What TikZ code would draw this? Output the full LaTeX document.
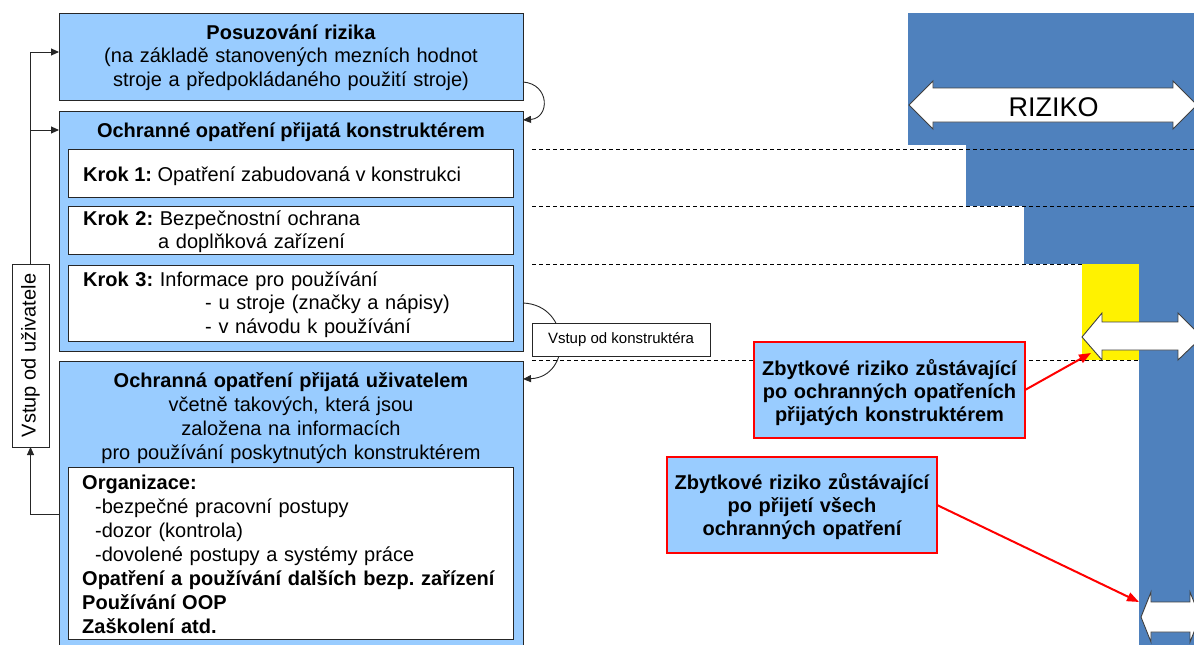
\documentclass[tikz,border=0pt]{standalone}
\usepackage{fontspec}
\setmainfont{Liberation Sans}
\usetikzlibrary{arrows.meta}
\definecolor{lblue}{HTML}{99CCFF}
\definecolor{sblue}{HTML}{4F81BD}
\definecolor{bord}{HTML}{262626}
\definecolor{agray}{HTML}{404040}
\frenchspacing
\begin{document}
\begin{tikzpicture}[x=1pt,y=-1pt,
  font=\fontsize{20}{23.5}\selectfont,
  box/.style={draw=bord,fill=lblue,line width=1pt,anchor=north west,inner sep=0pt,outer sep=0pt},
  wbox/.style={draw=bord,fill=white,line width=1pt,anchor=north west,inner sep=0pt,outer sep=0pt},
  callout/.style={draw=red,fill=lblue,line width=2.2pt,anchor=north west,inner sep=0pt,outer sep=0pt},
  ctext/.style={inner sep=0pt,anchor=base,align=center},
  ltext/.style={inner sep=0pt,anchor=base west,align=left},
  arr/.style={-{Triangle[length=8pt,width=7pt]},line width=0.9pt,draw=bord},
  redarr/.style={-{Triangle[length=12pt,width=9pt]},line width=2pt,draw=red,fill=red},
  dashline/.style={draw=black,line width=0.8pt,dash pattern=on 4pt off 3pt},
  bigarrow/.style={draw=agray,fill=white,line width=0.9pt}
]
\useasboundingbox (0,0) rectangle (1194,645);
\clip (0,0) rectangle (1194,645);

% risk bars
\fill[sblue] (908,13) rectangle (1194,145);
\fill[sblue] (966,145) rectangle (1194,206);
\fill[sblue] (1024,206) rectangle (1194,264);
\fill[sblue] (1139,264) rectangle (1194,645);
\fill[yellow] (1082,264) rectangle (1139,360);

% dashed level lines
\draw[dashline] (532,149) -- (1194,149);
\draw[dashline] (532,206) -- (1194,206);
\draw[dashline] (532,264) -- (1082,264);
\draw[dashline] (532,360) -- (1139,360);

% double arrows
\draw[bigarrow] (909,105) -- (933,81) -- (933,88) -- (1173,88) -- (1173,81) -- (1197,105) -- (1173,129) -- (1173,122) -- (933,122) -- (933,129) -- cycle;
\node[inner sep=0pt,anchor=base,font=\fontsize{27}{30}\selectfont] (riz) at (1053.5,116) {RIZIKO};
\draw[bigarrow] (1082,337) -- (1102,313) -- (1102,322) -- (1178,322) -- (1178,313) -- (1202,337) -- (1178,360) -- (1178,350) -- (1102,350) -- (1102,360) -- cycle;
\draw[bigarrow] (1141,617) -- (1151,592) -- (1151,602) -- (1190,602) -- (1190,592) -- (1200,617) -- (1190,642) -- (1190,632) -- (1151,632) -- (1151,642) -- cycle;
\coordinate (tipA) at (1091,353);
\coordinate (tipB) at (1139,602);

% main boxes
\node[box,minimum width=464pt,minimum height=87pt] (box1) at (59,13) {};
\node[box,minimum width=464pt,minimum height=240pt] (box2) at (59,111) {};
\node[box,minimum width=464pt,minimum height=300pt] (box3) at (59,361) {};
\node[wbox,minimum width=445pt,minimum height=48pt] (krok1) at (68,149) {};
\node[wbox,minimum width=445pt,minimum height=48pt] (krok2) at (68,206) {};
\node[wbox,minimum width=445pt,minimum height=76pt] (krok3) at (68,265) {};
\node[wbox,minimum width=445pt,minimum height=172pt] (org) at (68,467) {};

\node[ctext,text width=460pt] (t1) at (291,39) {\textbf{Posuzování rizika}\\(na základě stanovených mezních hodnot\\stroje a předpokládaného použití stroje)};
\node[ctext] (t2) at (291,137) {\textbf{Ochranné opatření přijatá konstruktérem}};
\node[ltext] (k1t) at (83,181) {\textbf{Krok 1:} Opatření zabudovaná v konstrukci};
\node[ltext,text width=420pt] (k2t) at (83,225) {\textbf{Krok 2:} Bezpečnostní ochrana\\\hspace*{75pt}a doplňková zařízení};
\node[ltext,text width=420pt] (k3t) at (83,286) {\textbf{Krok 3:} Informace pro používání\\\hspace*{122pt}- u stroje (značky a nápisy)\\\hspace*{122pt}- v návodu k používání};
\node[ctext,text width=460pt,font=\fontsize{20}{24}\selectfont] (t3) at (291,387) {\textbf{Ochranná opatření přijatá uživatelem}\\včetně takových, která jsou\\založena na informacích\\pro používání poskytnutých konstruktérem};
\node[ltext,text width=428pt,font=\fontsize{20}{24}\selectfont] (orgt) at (82,489) {\textbf{Organizace:}\\\hspace*{13pt}-bezpečné pracovní postupy\\\hspace*{13pt}-dozor (kontrola)\\\hspace*{13pt}-dovolené postupy a systémy práce\\\textbf{Opatření a používání dalších bezp. zařízení}\\\textbf{Používání OOP}\\\textbf{Zaškolení atd.}};

% user feedback
\node[wbox,minimum width=37pt,minimum height=183pt] (vstupU) at (12,264) {};
\node[inner sep=0pt,rotate=90] (vstupUt) at (vstupU.center) {Vstup od uživatele};
\coordinate (fb) at (30.5,514);
\coordinate (c1) at (30.5,52);
\coordinate (c2) at (30.5,130);
\draw[arr] (fb -| box3.west) -- (fb) -- (vstupU.south);
\draw[arr] (vstupU.north) -- (c1) -- (c1 -| box1.west);
\draw[arr] (c2) -- (c2 -| box2.west);

% designer flow
\draw[arr] ([yshift=18pt]box1.south east) .. controls (550,84) and (550,118) .. ([yshift=-9pt]box2.north east);
\draw[arr] ([yshift=48pt]box2.south east) .. controls (572,305) and (572,377) .. ([yshift=-18pt]box3.north east);
\node[wbox,minimum width=178pt,minimum height=33pt,font=\fontsize{15}{18}\selectfont] (vstupK) at (532,323) {Vstup od konstruktéra};

% callouts
\node[callout,minimum width=271pt,minimum height=96pt] (call1) at (754,342) {};
\node[ctext,text width=271pt,font=\fontsize{20}{23}\selectfont\bfseries] (c1t) at (889.5,375) {Zbytkové riziko zůstávající\\po ochranných opatřeních\\přijatých konstruktérem};
\node[callout,minimum width=270pt,minimum height=96pt] (call2) at (667,457) {};
\node[ctext,text width=270pt,font=\fontsize{20}{23}\selectfont\bfseries] (c2t) at (802,489) {Zbytkové riziko zůstávající\\po přijetí všech\\ochranných opatření};
\draw[redarr] (call1.east) -- (tipA);
\draw[redarr] (call2.east) -- (tipB);
\end{tikzpicture}
\end{document}
